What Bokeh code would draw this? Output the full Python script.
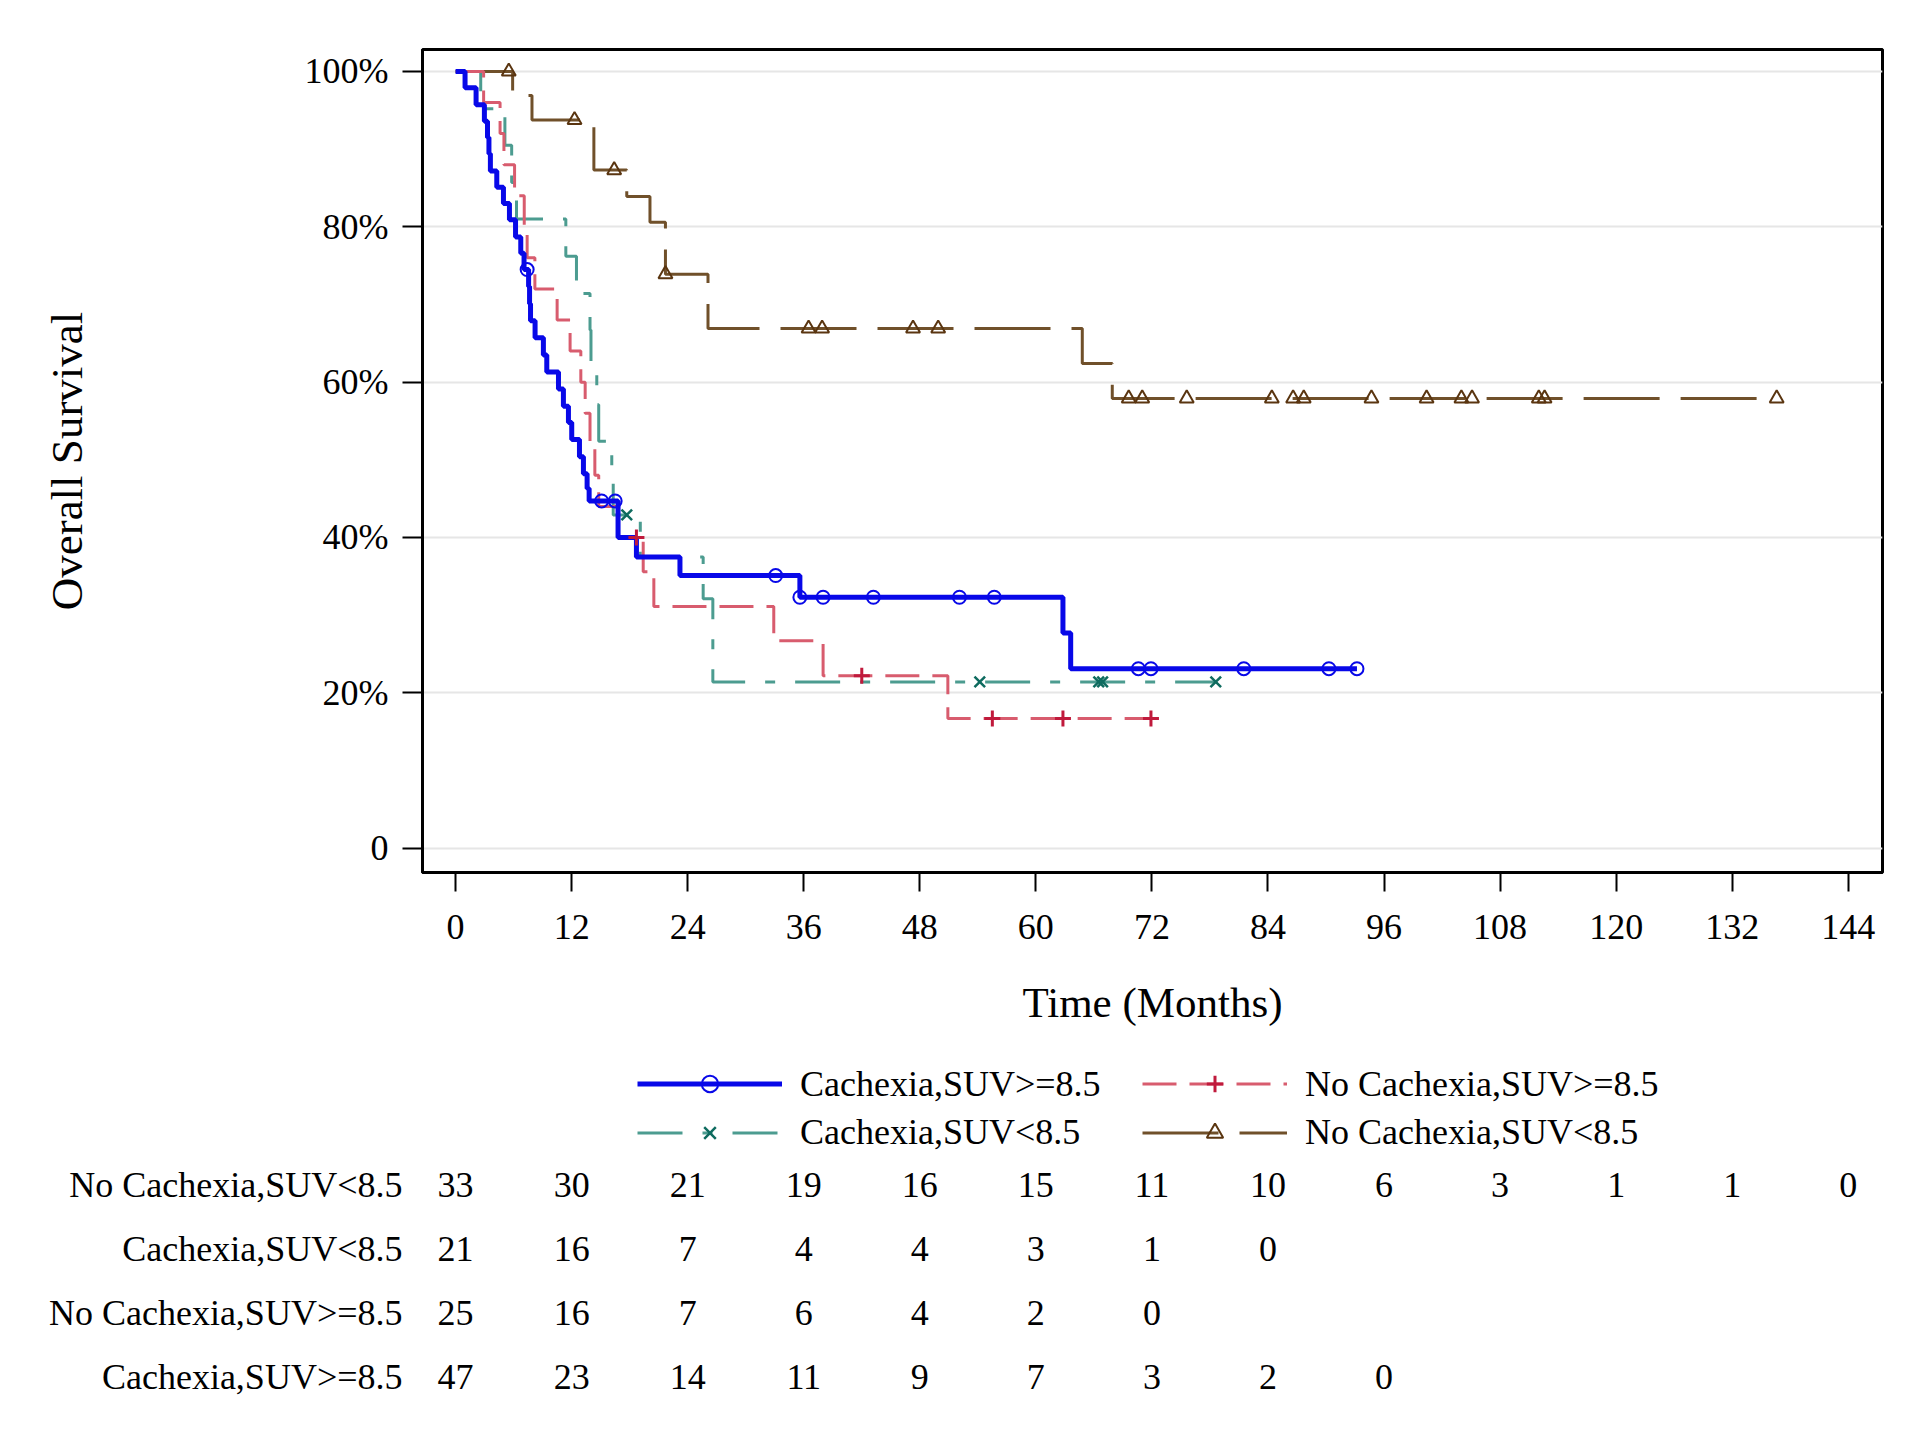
import numpy as np
from bokeh.plotting import figure
from bokeh.models import (Range1d, FixedTicker, Legend, LegendItem,
                          ColumnDataSource, FactorRange)
from bokeh.layouts import column
from bokeh.embed import file_html
from bokeh.resources import INLINE
from bokeh.core.properties import value

FONT = "Liberation Serif"

# ---------------- data ----------------
# Kaplan-Meier step curves: time of each step (months) and survival (%) after it
blue_t = [0, 0.98, 2.12, 2.98, 3.3, 3.45, 3.6, 4.26, 4.95, 5.57, 6.2, 6.74, 7.08,
          7.55, 7.65, 7.75, 8.22, 9.08, 9.43, 10.64, 11.15, 11.67, 12.01, 12.81,
          13.22, 13.6, 13.81, 16.8, 18.7, 23.2, 35.6, 62.8, 63.6, 93.2]
blue_s = [100, 97.9, 95.7, 93.6, 91.5, 89.4, 87.2, 85.1, 83.0, 80.9, 78.7, 76.6, 74.5,
          72.3, 70.1, 67.9, 65.7, 63.5, 61.3, 59.1, 56.9, 54.8, 52.6, 50.4,
          48.2, 46.3, 44.7, 40.0, 37.5, 35.1, 32.3, 27.7, 23.1, 23.1]
blue_cens = [7.4, 15.1, 16.5, 33.1, 35.6, 38.0, 43.2, 52.1, 55.7, 70.6, 71.9, 81.5, 90.3, 93.2]

red_t = [0, 2.9, 4.6, 5.0, 6.1, 7.1, 7.4, 8.2, 10.5, 11.84, 12.95, 13.4, 13.9, 14.4,
         14.8, 16.8, 19.4, 20.5, 32.9, 38.0, 50.9, 71.9]
red_s = [100, 96, 92, 88, 84, 80, 76, 72, 68, 64, 60, 56, 52, 48,
         44, 40, 35.6, 31.1, 26.7, 22.2, 16.7, 16.7]
red_cens = [18.7, 42.0, 55.5, 62.8, 71.9]

teal_t = [0, 2.6, 5.1, 5.8, 6.3, 11.4, 12.5, 13.9, 14.0, 14.6, 14.8, 16.15, 16.3,
          19.1, 25.6, 26.6, 78.6]
teal_s = [100, 95.2, 90.5, 85.7, 81.0, 76.2, 71.4, 66.7, 61.9, 57.1, 52.4, 47.6, 42.9,
          37.5, 32.1, 21.4, 21.4]
teal_cens = [17.7, 54.2, 66.5, 66.9, 78.6]

brown_t = [0, 5.9, 7.9, 14.3, 17.7, 20.1, 21.7, 26.1, 64.8, 67.9, 136.6]
brown_s = [100, 96.9, 93.75, 87.3, 83.9, 80.6, 73.9, 66.9, 62.4, 57.9, 57.9]
brown_cens = [5.5, 12.3, 16.4, 21.7, 36.5, 37.9, 47.3, 49.9, 69.6, 71.0, 75.6, 84.4,
              86.6, 87.7, 94.7, 100.4, 104.0, 105.1, 112.0, 112.6, 136.6]

group_names = ["Cachexia,SUV>=8.5", "No Cachexia,SUV>=8.5",
               "Cachexia,SUV<8.5", "No Cachexia,SUV<8.5"]

# numbers at risk at 0, 12, 24, ... months
risk_times = [0, 12, 24, 36, 48, 60, 72, 84, 96, 108, 120, 132, 144]
risk_nocach_low = [33, 30, 21, 19, 16, 15, 11, 10, 6, 3, 1, 1, 0]
risk_cach_low = [21, 16, 7, 4, 4, 3, 1, 0]
risk_nocach_high = [25, 16, 7, 6, 4, 2, 0]
risk_cach_high = [47, 23, 14, 11, 9, 7, 3, 2, 0]

x_ticks = [0, 12, 24, 36, 48, 60, 72, 84, 96, 108, 120, 132, 144]
y_ticks = [0, 20, 40, 60, 80, 100]
y_tick_labels = ["0", "20%", "40%", "60%", "80%", "100%"]

# ---------------- styles ----------------
BLUE = "#0808E8"
RED_L, RED_M = "#D85C6E", "#C01A3C"
TEAL_L, TEAL_M = "#4C9C90", "#0E6B5F"
BROWN_L, BROWN_M = "#70502A", "#5A3510"

STYLE = {
    "blue": dict(line=dict(line_color=BLUE, line_width=5),
                 mark=dict(marker="circle", size=13, fill_color=None,
                           line_color=BLUE, line_width=2)),
    "red": dict(line=dict(line_color=RED_L, line_width=3, line_dash="34 13"),
                mark=dict(marker="cross", size=16, line_color=RED_M, line_width=3)),
    "teal": dict(line=dict(line_color=TEAL_L, line_width=3, line_dash="45 20 10 20"),
                 mark=dict(marker="x", size=15, line_color=TEAL_M, line_width=2.5)),
    "brown": dict(line=dict(line_color=BROWN_L, line_width=3, line_dash="76 21"),
                  mark=dict(marker="triangle", size=14, fill_color=None,
                            line_color=BROWN_M, line_width=2)),
}

W = 1904
H1 = 1050
HL = 103
H2 = 1426 - H1 - HL

# ---------------- figure 1: survival curves ----------------
p1 = figure(width=W, height=H1, output_backend="svg", toolbar_location=None,
            x_range=Range1d(-3.42, 147.54), y_range=Range1d(-3.14, 102.83),
            min_border_left=422, min_border_right=22, min_border_top=49,
            min_border_bottom=H1 - 872)
p1.background_fill_color = "white"
p1.border_fill_color = "white"
p1.outline_line_color = "black"
p1.outline_line_width = 3

p1.xgrid.visible = False
p1.ygrid.ticker = FixedTicker(ticks=y_ticks)
p1.ygrid.grid_line_color = "#E6E6E6"
p1.ygrid.grid_line_width = 2

xa = p1.xaxis[0]
xa.ticker = FixedTicker(ticks=x_ticks)
xa.axis_label = "Time (Months)"
ya = p1.yaxis[0]
ya.ticker = FixedTicker(ticks=y_ticks)
ya.major_label_overrides = {t: lab for t, lab in zip(y_ticks, y_tick_labels)}
ya.axis_label = "Overall Survival"

for ax in (xa, ya):
    ax.axis_line_color = "black"
    ax.axis_line_width = 3
    ax.major_tick_line_color = "black"
    ax.major_tick_line_width = 2
    ax.major_tick_in = 0
    ax.minor_tick_line_color = None
    ax.major_label_text_font = FONT
    ax.major_label_text_font_size = "36px"
    ax.major_label_text_color = "black"
    ax.axis_label_text_font = FONT
    ax.axis_label_text_font_style = "normal"
    ax.axis_label_text_color = "black"

xa.major_tick_out = 19
xa.major_label_standoff = 23
xa.axis_label_text_font_size = "43px"
xa.axis_label_standoff = 37
ya.major_tick_out = 20
ya.major_label_standoff = 14
ya.axis_label_text_font_size = "45px"
ya.axis_label_standoff = 210


def cens_src(t_arr, s_arr, cens):
    t_arr = np.asarray(t_arr, dtype=float)
    s_arr = np.asarray(s_arr, dtype=float)
    idx = np.searchsorted(t_arr, np.asarray(cens, dtype=float), side="right") - 1
    return ColumnDataSource(dict(t=list(cens), s=list(s_arr[idx])))


curves = [("brown", brown_t, brown_s, brown_cens),
          ("teal", teal_t, teal_s, teal_cens),
          ("red", red_t, red_s, red_cens),
          ("blue", blue_t, blue_s, blue_cens)]
for key, t, s, c in curves:
    p1.step("t", "s", source=ColumnDataSource(dict(t=t, s=s)), mode="after",
            **STYLE[key]["line"])
for key, t, s, c in curves:
    p1.scatter("t", "s", source=cens_src(t, s, c), **STYLE[key]["mark"])

# ---------------- legend strip (its frame is aligned with the plot frame) ----------------
pl = figure(width=W, height=HL, output_backend="svg", toolbar_location=None,
            x_range=Range1d(0, 1), y_range=Range1d(0, 1),
            x_axis_type=None, y_axis_type=None,
            min_border_left=422, min_border_right=22, min_border_top=0,
            min_border_bottom=0)
pl.outline_line_color = None
pl.background_fill_color = "white"
pl.border_fill_color = "white"

NAN = dict(x=[float("nan")], y=[float("nan")])


def legend_item(key, label):
    r1 = pl.line(x="x", y="y", source=ColumnDataSource(NAN), **STYLE[key]["line"])
    r2 = pl.scatter(x="x", y="y", source=ColumnDataSource(NAN), **STYLE[key]["mark"])
    return LegendItem(label=label, renderers=[r1, r2])


leg1 = Legend(items=[legend_item("blue", group_names[0]),
                     legend_item("red", group_names[1])])
leg2 = Legend(items=[legend_item("teal", group_names[2]),
                     legend_item("brown", group_names[3])])
for lg, vy in ((leg1, 48.5), (leg2, 0)):
    lg.location = (215, vy)
    lg.orientation = "horizontal"
    lg.glyph_width = 145
    lg.glyph_height = 41
    lg.label_height = 41
    lg.label_width = 330
    lg.label_standoff = 18
    lg.spacing = 12
    lg.padding = 0
    lg.margin = 0
    lg.border_line_color = None
    lg.background_fill_alpha = 0
    lg.label_text_font = FONT
    lg.label_text_font_size = "36px"
    lg.label_text_color = "black"
    pl.add_layout(lg)

# ---------------- figure 2: numbers at risk ----------------
p2 = figure(width=W, height=H2, output_backend="svg", toolbar_location=None,
            x_range=p1.x_range, y_range=FactorRange(factors=group_names),
            min_border_left=422, min_border_right=22, min_border_top=0,
            min_border_bottom=18)
p2.background_fill_color = "white"
p2.border_fill_color = "white"
p2.outline_line_color = None
p2.grid.visible = False
p2.xaxis.visible = False
ra = p2.yaxis[0]
ra.axis_line_color = None
ra.major_tick_line_color = None
ra.minor_tick_line_color = None
ra.major_tick_out = 0
ra.major_tick_in = 0
ra.major_label_standoff = 20
ra.major_label_text_font = FONT
ra.major_label_text_font_size = "36px"
ra.major_label_text_color = "black"

rx, ry, rt = [], [], []
for name, counts in zip(group_names, [risk_cach_high, risk_nocach_high,
                                      risk_cach_low, risk_nocach_low]):
    for t, c in zip(risk_times, counts):
        rx.append(t)
        ry.append(name)
        rt.append(str(c))
p2.text(x="x", y="y", text="txt", source=ColumnDataSource(dict(x=rx, y=ry, txt=rt)),
        text_font=value(FONT), text_font_size="36px", text_align="center",
        text_baseline="middle", text_color="black")

layout = column(p1, pl, p2, spacing=0)

open("out.html", "w").write(file_html(layout, INLINE))
